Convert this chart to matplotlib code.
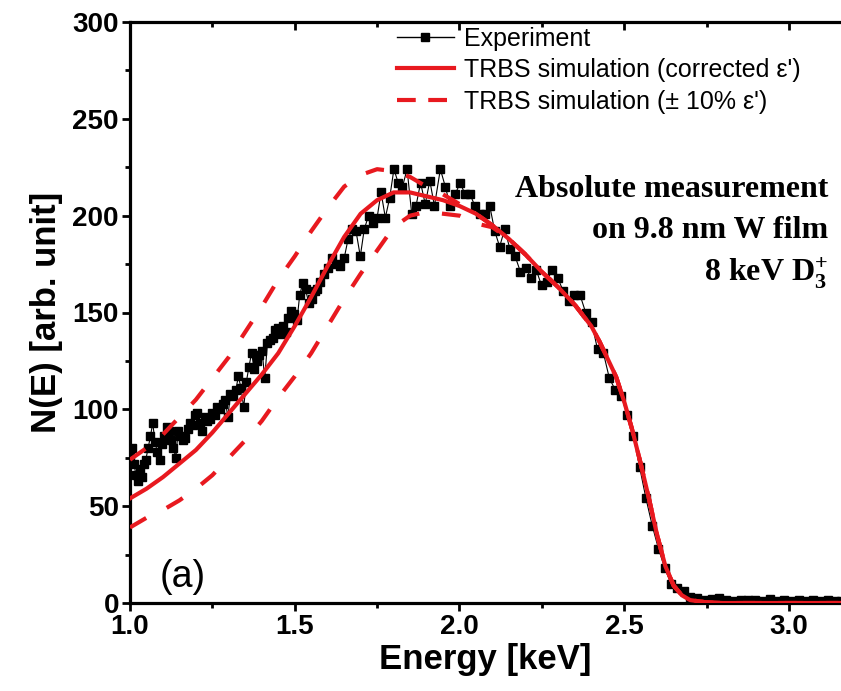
import matplotlib
matplotlib.use('Agg')
import matplotlib.pyplot as plt
from matplotlib.ticker import MultipleLocator
from matplotlib import font_manager
from matplotlib.lines import Line2D

# ---------------- data ----------------
exp_x = [1.000, 1.006, 1.012, 1.018, 1.024, 1.030, 1.036, 1.042, 1.048, 1.055,
         1.062, 1.069, 1.076, 1.083, 1.090, 1.097, 1.104, 1.111, 1.118, 1.125,
         1.132, 1.139, 1.146, 1.153, 1.160, 1.167, 1.175, 1.182, 1.190, 1.197,
         1.204, 1.212, 1.219, 1.227, 1.234, 1.242, 1.250, 1.258, 1.265, 1.273,
         1.281, 1.289, 1.297, 1.305, 1.313, 1.321, 1.329, 1.337, 1.345, 1.353,
         1.361, 1.369, 1.377, 1.385, 1.393, 1.401, 1.409, 1.417, 1.425, 1.433,
         1.441, 1.449, 1.457, 1.465, 1.473, 1.481, 1.490, 1.498, 1.507, 1.515,
         1.524, 1.533, 1.542, 1.551, 1.560, 1.569, 1.578, 1.590, 1.602, 1.614,
         1.626, 1.638, 1.650, 1.662, 1.674, 1.686, 1.699, 1.711, 1.724, 1.737,
         1.750, 1.762, 1.775, 1.788, 1.801, 1.814, 1.827, 1.841, 1.855, 1.868,
         1.882, 1.896, 1.910, 1.924, 1.942, 1.957, 1.972, 1.987, 2.002, 2.017,
         2.032, 2.047, 2.062, 2.077, 2.092, 2.107, 2.122, 2.137, 2.153, 2.169,
         2.185, 2.201, 2.217, 2.233, 2.249, 2.265, 2.281, 2.298, 2.315, 2.332,
         2.349, 2.366, 2.383, 2.401, 2.419, 2.437, 2.455, 2.473, 2.491, 2.509,
         2.528, 2.547, 2.566, 2.585, 2.604, 2.623, 2.642, 2.661, 2.680, 2.700,
         2.722, 2.744, 2.766, 2.788, 2.810, 2.832, 2.854, 2.876, 2.898, 2.920,
         2.942, 2.964, 2.986, 3.008, 3.030, 3.052, 3.074, 3.096, 3.118, 3.140,
         3.158]
exp_y = [76, 80, 72, 66, 63, 69, 65, 72, 74, 80,
         86, 93, 83, 78, 74, 82, 86, 91, 89, 84,
         80, 75, 89, 86, 84, 85, 90, 93, 92, 97,
         98, 93, 89, 96, 94, 95, 98, 97, 101, 100,
         103, 105, 96, 108, 107, 110, 117, 111, 101, 114,
         122, 129, 121, 125, 128, 130, 116, 134, 136, 137,
         141, 142, 139, 143, 140, 147, 151, 149, 146, 159,
         165, 162, 155, 157, 161, 162, 166, 170, 173, 178,
         175, 174, 178, 188, 193, 192, 179, 193, 200, 196,
         199, 212, 199, 209, 224, 217, 215, 224, 201, 205,
         217, 206, 218, 205, 224, 215, 205, 211, 217, 211,
         211, 205, 201, 201, 205, 192, 184, 193, 183, 179,
         171, 173, 168, 172, 164, 166, 172, 168, 161, 156,
         159, 159, 150, 145, 131, 129, 116, 110, 107, 97,
         86, 70, 54, 40, 28, 18, 10, 8, 6, 3,
         2.4, 1.6, 1.9, 2.4, 1.5, 1.2, 1.8, 1.3, 1.6, 1.1,
         2.0, 1.2, 1.4, 1.0, 1.5, 1.2, 1.6, 1.0, 1.3, 1.1,
         1.2]

sim_x = [1.00, 1.05, 1.10, 1.15, 1.20, 1.25, 1.30, 1.35, 1.40, 1.45,
         1.50, 1.55, 1.60, 1.65, 1.70, 1.75, 1.80, 1.85, 1.90, 1.95,
         2.00, 2.05, 2.10, 2.15, 2.20, 2.25, 2.30, 2.35, 2.40, 2.425,
         2.45, 2.475, 2.50, 2.525, 2.55, 2.575, 2.60, 2.625, 2.65, 2.675,
         2.70, 2.75, 2.80, 3.16]
sim_corrected = [54, 59, 65, 72, 79, 88, 98, 108, 118, 129,
                 143, 158, 174, 189, 201, 208, 212, 212, 210, 208,
                 205, 201, 195, 188, 180, 171, 163, 154, 143, 135,
                 126, 117, 104, 89, 72, 54, 35, 19, 9, 4,
                 1.5, 0.3, 0, 0]
sim_minus10 = [74, 80, 87, 96, 105, 116, 127, 140, 153, 167,
               179, 192, 204, 215, 221, 224, 223, 220, 215, 211,
               206, 201, 195, 188, 180, 171, 163, 154, 143, 135,
               126, 117, 104, 89, 72, 54, 35, 19, 9, 4,
               1.5, 0.3, 0, 0]
sim_plus10 = [39, 44, 48, 53, 59, 66, 75, 84, 94, 106,
              117, 129, 143, 157, 170, 182, 194, 200, 202, 201,
              200, 196, 194, 188, 180, 171, 163, 154, 143, 135,
              126, 117, 104, 89, 72, 54, 35, 19, 9, 4,
              1.5, 0.3, 0, 0]

x_ticks = [1.0, 1.5, 2.0, 2.5, 3.0]
y_ticks = [0, 50, 100, 150, 200, 250, 300]
legend_labels = ["Experiment", "TRBS simulation (corrected ε')", "TRBS simulation (± 10% ε')"]
annot_lines = ["Absolute measurement", "on 9.8 nm W film", "8 keV D$_{3}^{+}$"]

# ---------------- style ----------------
names = {f.name for f in font_manager.fontManager.ttflist}
NARROW = 'Liberation Sans Narrow' if 'Liberation Sans Narrow' in names else 'Liberation Sans'
plt.rcParams['font.family'] = ['Liberation Sans', 'DejaVu Sans']
plt.rcParams['mathtext.fontset'] = 'custom'
plt.rcParams['mathtext.rm'] = 'Liberation Serif'
plt.rcParams['mathtext.default'] = 'regular'
RED = '#E8191F'

fig = plt.figure(figsize=(8.41, 6.91), dpi=100)
ax = fig.add_axes([130/841, 88/691, 711/841, 581/691])

ax.plot(exp_x, exp_y, '-', color='black', lw=0.8, marker='s', ms=5.5,
        mfc='black', mec='black', zorder=2)
ax.plot(sim_x, sim_minus10, color=RED, lw=3.0, ls=(0, (4.5, 5.5)), zorder=3)
ax.plot(sim_x, sim_plus10, color=RED, lw=3.0, ls=(0, (4.5, 5.5)), zorder=3)
ax.plot(sim_x, sim_corrected, color=RED, lw=3.0, zorder=4)

ax.set_xlim(1.0, 3.158)
ax.set_ylim(0, 300)
ax.set_xticks(x_ticks)
ax.set_yticks(y_ticks)
ax.xaxis.set_minor_locator(MultipleLocator(0.25))
ax.yaxis.set_minor_locator(MultipleLocator(25))
ax.set_xticklabels([f"{v:.1f}" for v in x_ticks])
ax.set_yticklabels([str(v) for v in y_ticks])

for sp in ['left', 'bottom']:
    ax.spines[sp].set_linewidth(2.3)
ax.spines['right'].set_visible(False)
ax.spines['top'].set_visible(False)

ax.tick_params(axis='both', which='major', direction='out', length=6, width=2.0, pad=2)
ax.tick_params(axis='both', which='minor', direction='out', length=3.5, width=2.0)
for lab in ax.get_xticklabels() + ax.get_yticklabels():
    lab.set_fontfamily(NARROW)
    lab.set_fontweight('bold')
    lab.set_fontsize(20)

sec = ax.secondary_xaxis('top')
sec.set_xticks(x_ticks)
sec.xaxis.set_minor_locator(MultipleLocator(0.25))
sec.tick_params(axis='x', which='major', direction='in', length=6, width=2.0, labeltop=False)
sec.tick_params(axis='x', which='minor', direction='in', length=3.5, width=2.0)
sec.spines['top'].set_linewidth(2.3)

ax.set_xlabel('Energy [keV]', fontfamily=NARROW, fontweight='bold', fontsize=25, labelpad=2)
ax.set_ylabel('N(E) [arb. unit]', fontfamily=NARROW, fontweight='bold', fontsize=25, labelpad=7)

handles = [Line2D([], [], color='black', lw=1.0, marker='s', ms=6, mfc='black'),
           Line2D([], [], color=RED, lw=3.0),
           Line2D([], [], color=RED, lw=3.0, ls=(0, (4.5, 3.0)))]
ax.legend(handles, legend_labels, loc='upper left', bbox_to_anchor=(0.375, 0.992),
          frameon=False, prop={'family': 'Liberation Sans', 'size': 18},
          handlelength=2.3, handletextpad=0.4, labelspacing=0.3,
          borderaxespad=0, borderpad=0, numpoints=1)

ys = [0.699, 0.628, 0.553]
for t, yy in zip(annot_lines, ys):
    ax.text(0.982, yy, t, transform=ax.transAxes, ha='right', va='baseline',
            fontfamily='Liberation Serif', fontweight='bold', fontsize=23)

ax.text(0.042, 0.027, '(a)', transform=ax.transAxes, ha='left', va='baseline',
        fontfamily='Liberation Sans', fontsize=27)

fig.savefig('out.png', dpi=100)
